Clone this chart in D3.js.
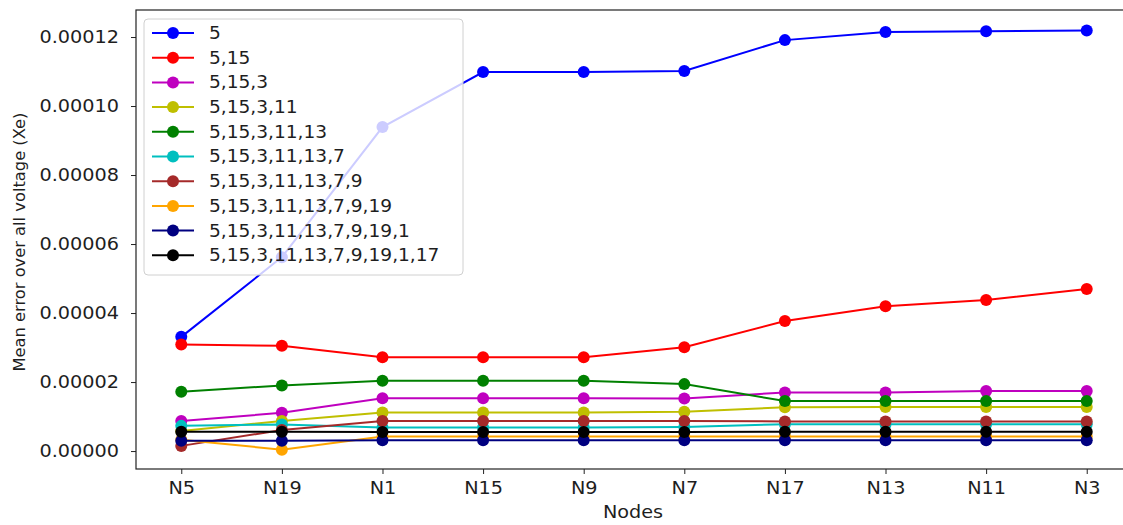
<!DOCTYPE html>
<html>
<head>
<meta charset="utf-8">
<script src="https://cdn.jsdelivr.net/npm/d3@7"></script>
<style>
  body { margin: 0; background: #fff; }
  text { font-family: 'DejaVu Sans', sans-serif; fill: #1e1e1e; }
</style>
</head>
<body>
<svg width="1123" height="525"></svg>
<script>
// categories on the x axis
const nodes = ['N5', 'N19', 'N1', 'N15', 'N9', 'N7', 'N17', 'N13', 'N11', 'N3'];

// series values (mean error), one array per node set
const err5 = [3.31e-5, 5.62e-5, 9.39e-5, 1.0986e-4, 1.0986e-4, 1.1014e-4, 1.191e-4, 1.2145e-4, 1.217e-4, 1.219e-4];
const err5_15 = [3.09e-5, 3.05e-5, 2.72e-5, 2.72e-5, 2.72e-5, 3.01e-5, 3.77e-5, 4.2e-5, 4.38e-5, 4.70e-5];
const err5_15_3 = [8.7e-6, 1.11e-5, 1.53e-5, 1.53e-5, 1.53e-5, 1.52e-5, 1.70e-5, 1.70e-5, 1.74e-5, 1.74e-5];
const err5_15_3_11 = [5.8e-6, 8.7e-6, 1.12e-5, 1.12e-5, 1.12e-5, 1.14e-5, 1.27e-5, 1.28e-5, 1.28e-5, 1.28e-5];
const err5_15_3_11_13 = [1.72e-5, 1.90e-5, 2.04e-5, 2.04e-5, 2.04e-5, 1.94e-5, 1.45e-5, 1.45e-5, 1.45e-5, 1.45e-5];
const err_7 = [7.3e-6, 7.7e-6, 6.8e-6, 6.8e-6, 6.8e-6, 7.0e-6, 7.8e-6, 7.8e-6, 7.8e-6, 7.8e-6];
const err_9 = [1.5e-6, 6.1e-6, 8.7e-6, 8.7e-6, 8.7e-6, 8.7e-6, 8.6e-6, 8.6e-6, 8.6e-6, 8.6e-6];
const err_19 = [3.3e-6, 4e-7, 4.2e-6, 4.2e-6, 4.2e-6, 4.2e-6, 4.2e-6, 4.2e-6, 4.2e-6, 4.2e-6];
const err_1 = [3.0e-6, 3.0e-6, 3.1e-6, 3.1e-6, 3.1e-6, 3.1e-6, 3.1e-6, 3.1e-6, 3.1e-6, 3.1e-6];
const err_17 = [5.6e-6, 5.6e-6, 5.5e-6, 5.5e-6, 5.5e-6, 5.5e-6, 5.6e-6, 5.6e-6, 5.6e-6, 5.6e-6];

const labels = ['5', '5,15', '5,15,3', '5,15,3,11', '5,15,3,11,13', '5,15,3,11,13,7',
  '5,15,3,11,13,7,9', '5,15,3,11,13,7,9,19', '5,15,3,11,13,7,9,19,1', '5,15,3,11,13,7,9,19,1,17'];
const colors = ['#0000ff', '#ff0000', '#bf00bf', '#bfbf00', '#008000', '#00bfbf',
  '#a52a2a', '#ffa500', '#000080', '#000000'];
const yTicks = [0, 2e-5, 4e-5, 6e-5, 8e-5, 1e-4, 1.2e-4];

const series = [err5, err5_15, err5_15_3, err5_15_3_11, err5_15_3_11_13, err_7, err_9, err_19, err_1, err_17]
  .map((values, i) => ({ label: labels[i], color: colors[i], values }));

const svg = d3.select('svg');
const margin = { left: 136, top: 10, right: -9, bottom: 56 };
const width = +svg.attr('width');
const height = +svg.attr('height');
const innerWidth = width - margin.left - margin.right;
const innerHeight = height - margin.top - margin.bottom;
const stretch = 'scale(1.1,1)'; // text in the picture is a bit wide

const g = svg.append('g')
  .attr('transform', `translate(${margin.left},${margin.top})`);

// scales
const xScale = d3.scalePoint()
  .domain(nodes)
  .range([0, innerWidth])
  .padding(0.45);

const yScale = d3.scaleLinear()
  .domain([-5.2e-6, 1.2783e-4])
  .range([innerHeight, 0]);

// axes
const xAxis = d3.axisBottom(xScale).tickSize(5).tickPadding(8);
const xAxisG = g.append('g')
  .attr('transform', `translate(0,${innerHeight})`)
  .call(xAxis);
xAxisG.select('.domain').remove();
xAxisG.selectAll('text')
  .attr('font-size', 17.5)
  .attr('transform', stretch);

const yAxis = d3.axisLeft(yScale)
  .tickValues(yTicks)
  .tickFormat(d3.format('.5f'))
  .tickSize(5)
  .tickPadding(10.5);
const yAxisG = g.append('g').call(yAxis);
yAxisG.select('.domain').remove();
yAxisG.selectAll('text')
  .attr('font-size', 17.5)
  .attr('transform', stretch);

g.selectAll('.tick line').attr('stroke', '#222');

// lines and markers
const line = d3.line()
  .x((d, i) => xScale(nodes[i]))
  .y(d => yScale(d));

series.forEach(s => {
  const sg = g.append('g');
  sg.append('path')
    .attr('d', line(s.values))
    .attr('fill', 'none')
    .attr('stroke', s.color)
    .attr('stroke-width', 2);
  sg.selectAll('circle').data(s.values)
    .enter().append('circle')
      .attr('cx', (d, i) => xScale(nodes[i]))
      .attr('cy', d => yScale(d))
      .attr('r', 6)
      .attr('fill', s.color);
});

// frame
g.append('rect')
  .attr('width', innerWidth)
  .attr('height', innerHeight)
  .attr('fill', 'none')
  .attr('stroke', '#222')
  .attr('stroke-width', 1.2);

// axis labels
g.append('text')
  .attr('transform', `translate(${633 - margin.left},${innerHeight + 49}) ${stretch}`)
  .attr('font-size', 17.5)
  .attr('text-anchor', 'middle')
  .text('Nodes');

g.append('text')
  .attr('transform', 'rotate(-90)')
  .attr('x', -(242 - margin.top))
  .attr('y', -111)
  .attr('font-size', 16.3)
  .attr('text-anchor', 'middle')
  .text('Mean error over all voltage (Xe)');

// legend
const legend = g.append('g').attr('transform', 'translate(8,9)');
legend.append('rect')
  .attr('width', 319)
  .attr('height', 256)
  .attr('rx', 4)
  .attr('fill', 'white')
  .attr('fill-opacity', 0.8)
  .attr('stroke', '#d0d0d0');
const item = legend.selectAll('.item').data(series)
  .enter().append('g')
    .attr('class', 'item')
    .attr('transform', (d, i) => `translate(0,${14 + i * 24.7})`);
item.append('line')
  .attr('x1', 8).attr('x2', 50)
  .attr('stroke', d => d.color)
  .attr('stroke-width', 2);
item.append('circle')
  .attr('cx', 29)
  .attr('r', 6)
  .attr('fill', d => d.color);
item.append('text')
  .attr('transform', `translate(65,0) ${stretch}`)
  .attr('dy', '0.35em')
  .attr('font-size', 16.9)
  .text(d => d.label);
</script>
</body>
</html>
